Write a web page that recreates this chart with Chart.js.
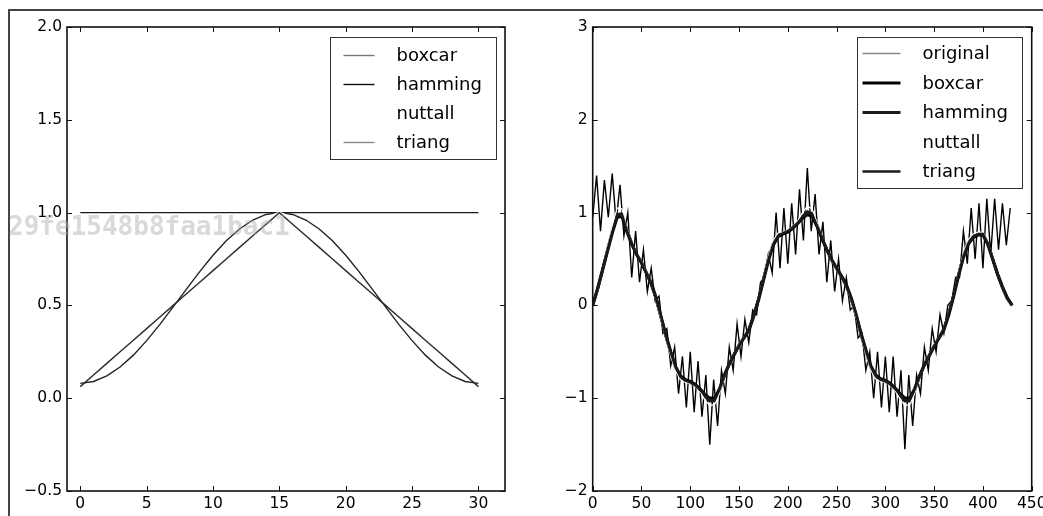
<!DOCTYPE html>
<html>
<head>
<meta charset="utf-8">
<script src="https://cdn.jsdelivr.net/npm/chart.js@4/dist/chart.umd.min.js"></script>
<style>
  html, body { margin: 0; padding: 0; background: #fff; overflow: hidden; width: 1043px; height: 516px; }
  #frame { position: absolute; left: 8px; top: 9px; width: 1100px; height: 600px; border-left: 2px solid #444; border-top: 2px solid #444; }
  #leftWrap { position: absolute; left: 0; top: 0; }
  #rightWrap { position: absolute; left: 521px; top: 0; }
  #mark { position: absolute; left: 8px; top: 211px; font: bold 26px "DejaVu Sans Mono"; color: rgba(170,170,170,0.45); white-space: nowrap; pointer-events: none; }
</style>
</head>
<body>
<div id="frame"></div>
<div id="leftWrap"><canvas id="winChart" width="521" height="516"></canvas></div>
<div id="rightWrap"><canvas id="smoothChart" width="540" height="516"></canvas></div>
<div id="mark">29fe1548b8faa1bac1</div>
<script>
// left plot: the window functions (31 samples)
const winX = [0,1,2,3,4,5,6,7,8,9,10,11,12,13,14,15,16,17,18,19,20,21,22,23,24,25,26,27,28,29,30];
const boxcarWin = [1,1,1,1,1,1,1,1,1,1,1,1,1,1,1,1,1,1,1,1,1,1,1,1,1,1,1,1,1,1,1];
const hammingWin = [0.08,0.09,0.12,0.168,0.232,0.31,0.398,0.492,0.588,0.682,0.77,0.848,0.912,0.96,0.99,1.0,
                    0.99,0.96,0.912,0.848,0.77,0.682,0.588,0.492,0.398,0.31,0.232,0.168,0.12,0.09,0.08];
const nuttallWin = [0.0004,0.0013,0.0048,0.0134,0.0306,0.0613,0.1105,0.1822,0.2778,0.3957,0.5293,0.668,0.7982,0.9052,0.9755,1.0,
                    0.9755,0.9052,0.7982,0.668,0.5293,0.3957,0.2778,0.1822,0.1105,0.0613,0.0306,0.0134,0.0048,0.0013,0.0004];
const triangWin = [0.0625,0.125,0.1875,0.25,0.3125,0.375,0.4375,0.5,0.5625,0.625,0.6875,0.75,0.8125,0.875,0.9375,1.0,
                   0.9375,0.875,0.8125,0.75,0.6875,0.625,0.5625,0.5,0.4375,0.375,0.3125,0.25,0.1875,0.125,0.0625];
const leftXTicks = [0,5,10,15,20,25,30];
const leftYTicks = [-0.5,0,0.5,1.0,1.5,2.0];

// right plot: noisy signal and its smoothed versions
const origX = [0,4,8,12,16,20,24,28,32,36,40,44,48,52,56,60,64,68,72,76,80,84,88,92,96,100,104,108,112,116,
               120,124,128,132,136,140,144,148,152,156,160,164,168,172,176,180,184,188,192,196,200,204,208,212,216,220,224,228,232,236,
               240,244,248,252,256,260,264,268,272,276,280,284,288,292,296,300,304,308,312,316,320,324,328,332,336,340,344,348,352,356,
               360,364,368,372,376,380,384,388,392,396,400,404,408,412,416,420,424,428];
const original = [0.95,1.40,0.80,1.35,0.95,1.42,0.90,1.30,0.75,1.00,0.30,0.80,0.25,0.60,0.15,0.40,0.05,0.10,-0.30,-0.25,
                  -0.65,-0.45,-0.95,-0.55,-1.10,-0.50,-1.15,-0.60,-1.20,-0.75,-1.50,-0.80,-1.30,-0.70,-0.95,-0.45,-0.70,-0.20,-0.55,-0.15,
                  -0.40,-0.05,-0.10,0.25,0.30,0.55,0.35,1.00,0.40,1.05,0.45,1.10,0.55,1.25,0.70,1.48,0.80,1.20,0.55,0.90,
                  0.25,0.70,0.15,0.50,0.05,0.30,-0.05,0.00,-0.35,-0.30,-0.70,-0.50,-1.00,-0.50,-1.10,-0.55,-1.15,-0.55,-1.20,-0.70,
                  -1.55,-0.75,-1.30,-0.75,-0.95,-0.45,-0.70,-0.25,-0.50,-0.10,-0.30,0.00,0.05,0.30,0.30,0.80,0.45,1.05,0.50,1.10,
                  0.40,1.15,0.55,1.15,0.60,1.10,0.65,1.05];
const smoothX = [0,5,10,15,20,25,30,35,40,45,50,55,60,65,70,75,80,85,90,95,100,105,110,115,120,125,130,135,140,145,
                 150,155,160,165,170,175,180,185,190,195,200,205,210,215,220,225,230,235,240,245,250,255,260,265,270,275,280,285,290,295,
                 300,305,310,315,320,325,330,335,340,345,350,355,360,365,370,375,380,385,390,395,400,405,410,415,420,425,430];
const boxcarSm = [0.00,0.18,0.38,0.58,0.78,0.95,0.96,0.80,0.66,0.55,
                  0.46,0.35,0.24,0.08,-0.12,-0.32,-0.50,-0.66,-0.76,-0.80,
                  -0.82,-0.85,-0.90,-0.96,-1.00,-1.00,-0.90,-0.75,-0.63,-0.53,
                  -0.43,-0.35,-0.27,-0.12,0.06,0.27,0.48,0.65,0.74,0.77,
                  0.79,0.83,0.88,0.94,0.98,0.96,0.85,0.72,0.60,0.49,
                  0.40,0.32,0.22,0.08,-0.10,-0.30,-0.48,-0.65,-0.75,-0.79,
                  -0.81,-0.84,-0.89,-0.95,-1.00,-1.00,-0.90,-0.76,-0.64,-0.54,
                  -0.44,-0.35,-0.26,-0.10,0.10,0.32,0.52,0.66,0.73,0.76,
                  0.76,0.66,0.50,0.34,0.20,0.08,0.00];
const hammingSm = [0.00,0.17,0.37,0.59,0.80,0.98,0.99,0.82,0.67,0.55,
                   0.46,0.35,0.23,0.07,-0.13,-0.33,-0.52,-0.68,-0.78,-0.81,
                   -0.83,-0.86,-0.91,-0.98,-1.03,-1.03,-0.92,-0.76,-0.63,-0.53,
                   -0.43,-0.35,-0.26,-0.11,0.07,0.28,0.50,0.67,0.76,0.78,
                   0.80,0.84,0.89,0.96,1.01,0.99,0.87,0.73,0.60,0.49,
                   0.40,0.31,0.21,0.07,-0.11,-0.31,-0.50,-0.67,-0.77,-0.80,
                   -0.82,-0.85,-0.90,-0.97,-1.03,-1.03,-0.92,-0.77,-0.64,-0.54,
                   -0.44,-0.35,-0.25,-0.09,0.11,0.33,0.54,0.68,0.75,0.77,
                   0.77,0.67,0.50,0.33,0.19,0.07,0.00];
const nuttallSm = [0.00,0.16,0.38,0.62,0.85,1.05,1.04,0.84,0.68,0.56,
                   0.47,0.36,0.23,0.05,-0.15,-0.35,-0.55,-0.71,-0.80,-0.83,
                   -0.84,-0.87,-0.93,-1.02,-1.08,-1.07,-0.95,-0.77,-0.63,-0.52,
                   -0.42,-0.34,-0.26,-0.12,0.08,0.30,0.53,0.70,0.78,0.79,
                   0.81,0.85,0.91,1.00,1.07,1.04,0.89,0.74,0.60,0.48,
                   0.39,0.30,0.20,0.05,-0.13,-0.33,-0.53,-0.70,-0.79,-0.82,
                   -0.83,-0.86,-0.92,-1.01,-1.08,-1.07,-0.95,-0.78,-0.64,-0.53,
                   -0.43,-0.34,-0.24,-0.08,0.12,0.35,0.57,0.71,0.77,0.79,
                   0.79,0.69,0.51,0.33,0.18,0.06,0.00];
const triangSm = [0.00,0.17,0.38,0.59,0.79,0.97,0.98,0.81,0.67,0.55,
                  0.46,0.35,0.23,0.07,-0.12,-0.33,-0.51,-0.67,-0.77,-0.81,
                  -0.83,-0.86,-0.91,-0.97,-1.02,-1.02,-0.91,-0.76,-0.63,-0.53,
                  -0.43,-0.35,-0.26,-0.11,0.07,0.28,0.49,0.66,0.75,0.78,
                  0.80,0.84,0.89,0.95,1.00,0.98,0.86,0.73,0.60,0.49,
                  0.40,0.31,0.21,0.07,-0.10,-0.31,-0.49,-0.66,-0.76,-0.80,
                  -0.82,-0.85,-0.90,-0.96,-1.02,-1.02,-0.91,-0.77,-0.64,-0.54,
                  -0.44,-0.35,-0.25,-0.09,0.11,0.33,0.53,0.67,0.74,0.77,
                  0.77,0.67,0.50,0.33,0.19,0.07,0.00];
const rightXTicks = [0,50,100,150,200,250,300,350,400,450];
const rightYTicks = [-2,-1,0,1,2,3];

const tickFont = { family: "DejaVu Sans", size: 15.5 };
const minus = s => String(s).replace('-', '\u2212');
const pts = (xs, ys) => xs.map((x, i) => ({ x: x, y: ys[i] }));

// matplotlib-ish box around the axes plus inward ticks on all four sides
const axesFrame = {
  id: 'axesFrame',
  afterDraw(chart) {
    const ctx = chart.ctx, a = chart.chartArea;
    const sx = chart.scales.x, sy = chart.scales.y;
    ctx.save();
    ctx.strokeStyle = '#111';
    ctx.lineWidth = 1;
    ctx.beginPath();
    sx.ticks.forEach(t => {
      const px = Math.round(sx.getPixelForValue(t.value)) + 0.5;
      ctx.moveTo(px, a.bottom); ctx.lineTo(px, a.bottom - 5);
      ctx.moveTo(px, a.top); ctx.lineTo(px, a.top + 5);
    });
    sy.ticks.forEach(t => {
      const py = Math.round(sy.getPixelForValue(t.value)) + 0.5;
      ctx.moveTo(a.left, py); ctx.lineTo(a.left + 5, py);
      ctx.moveTo(a.right, py); ctx.lineTo(a.right - 5, py);
    });
    ctx.stroke();
    ctx.lineWidth = 1.6;
    ctx.strokeRect(a.left, a.top, a.right - a.left, a.bottom - a.top);
    ctx.restore();
  }
};

// legend drawn inside the axes, upper right, with a framed white box
const boxLegend = {
  id: 'boxLegend',
  afterDraw(chart, args, o) {
    const ctx = chart.ctx, a = chart.chartArea;
    const x0 = Math.round(a.right - o.right - o.width) + 0.5;
    const y0 = Math.round(a.top + o.top) + 0.5;
    ctx.save();
    ctx.fillStyle = '#fff';
    ctx.fillRect(x0, y0, o.width, o.height);
    ctx.strokeStyle = '#333';
    ctx.lineWidth = 1;
    ctx.strokeRect(x0, y0, o.width, o.height);
    ctx.font = '18px "DejaVu Sans"';
    ctx.textBaseline = 'middle';
    chart.data.datasets.forEach((ds, i) => {
      const y = y0 + o.first + i * o.gap;
      ctx.strokeStyle = ds.legendColor || ds.borderColor;
      ctx.lineWidth = ds.borderWidth;
      ctx.beginPath();
      ctx.moveTo(x0 + o.lineFrom, y);
      ctx.lineTo(x0 + o.lineTo, y);
      ctx.stroke();
      ctx.fillStyle = '#000';
      ctx.fillText(ds.label, x0 + o.text, y + 1);
    });
    ctx.restore();
  }
};

function line(label, data, color, width, order, legendColor) {
  return { label: label, data: data, borderColor: color, legendColor: legendColor, borderWidth: width,
           pointRadius: 0, tension: 0, fill: false, order: order };
}

function axisOpts(min, max, tickVals, fmt, size, isX) {
  return {
    type: 'linear', min: min, max: max,
    afterBuildTicks: s => { s.ticks = tickVals.map(v => ({ value: v })); },
    afterFit: s => { if (isX) s.height = size; else s.width = size; },
    grid: { display: false, drawTicks: false },
    border: { display: false },
    ticks: { color: '#000', font: tickFont, padding: isX ? 4 : 5, maxRotation: 0, autoSkip: false,
             callback: v => fmt(v) }
  };
}

new Chart(document.getElementById('winChart'), {
  type: 'line',
  data: {
    datasets: [
      line('boxcar', pts(winX, boxcarWin), '#1a1a1a', 1.4, 4, '#777'),
      line('hamming', pts(winX, hammingWin), '#222', 1.4, 3, '#111'),
      line('nuttall', pts(winX, nuttallWin), '#fff', 1.4, 2),
      line('triang', pts(winX, triangWin), '#2a2a2a', 1.4, 1, '#888')
    ]
  },
  options: {
    responsive: false,
    animation: false,
    events: [],
    layout: { padding: { top: 27, right: 16, left: 0, bottom: 0 } },
    scales: {
      x: axisOpts(-1, 32, leftXTicks, v => minus(v), 25, true),
      y: axisOpts(-0.5, 2.0, leftYTicks, v => minus(Number(v).toFixed(1)), 67, false)
    },
    plugins: {
      legend: { display: false },
      tooltip: { enabled: false },
      boxLegend: { right: 9, top: 10, width: 166, height: 122, first: 18, gap: 29, lineFrom: 13, lineTo: 44, text: 66 }
    }
  },
  plugins: [axesFrame, boxLegend]
});

new Chart(document.getElementById('smoothChart'), {
  type: 'line',
  data: {
    datasets: [
      line('original', pts(origX, original), '#000', 1.4, 5, '#888'),
      line('boxcar', pts(smoothX, boxcarSm), '#000', 3.2, 4),
      line('hamming', pts(smoothX, hammingSm), '#1a1a1a', 2.8, 3),
      line('nuttall', pts(smoothX, nuttallSm), '#fff', 1.2, 2),
      line('triang', pts(smoothX, triangSm), '#1a1a1a', 2.4, 1)
    ]
  },
  options: {
    responsive: false,
    animation: false,
    events: [],
    layout: { padding: { top: 27, right: 29.3, left: 0, bottom: 0 } },
    scales: {
      x: axisOpts(0, 450, rightXTicks, v => minus(v), 25, true),
      y: axisOpts(-2, 3, rightYTicks, v => minus(v), 71.7, false)
    },
    plugins: {
      legend: { display: false },
      tooltip: { enabled: false },
      boxLegend: { right: 9.7, top: 10, width: 165, height: 151, first: 16, gap: 29.5, lineFrom: 5, lineTo: 43, text: 65 }
    }
  },
  plugins: [axesFrame, boxLegend]
});
</script>
</body>
</html>
